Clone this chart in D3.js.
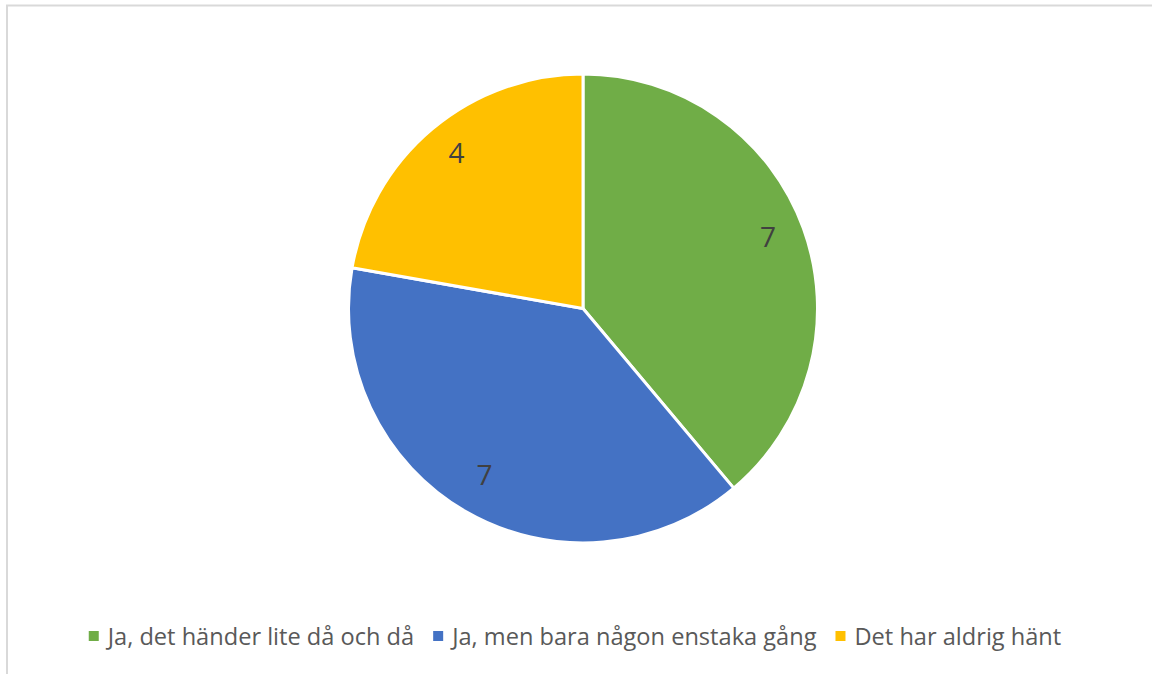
<!DOCTYPE html>
<html>
<head>
<meta charset="utf-8">
<script src="https://cdn.jsdelivr.net/npm/d3@7"></script>
<style>
  body { margin: 0; background: #fff; }
  svg { display: block; }
</style>
</head>
<body>
<script>
// data
const categories = ["Ja, det händer lite då och då", "Ja, men bara någon enstaka gång", "Det har aldrig hänt"];
const values = [7, 7, 4];
const colors = ["#70ad47", "#4472c4", "#ffc000"];

const W = 1152, H = 674;
const cx = 583, cy = 308.5, r = 234.5;

const svg = d3.select("body").append("svg")
  .attr("width", W).attr("height", H);

// chart frame (only top and left edges visible)
svg.append("rect")
  .attr("x", 7).attr("y", 5.5)
  .attr("width", W + 20).attr("height", H + 20)
  .attr("fill", "#fff")
  .attr("stroke", "#d9d9d9").attr("stroke-width", 2);

const pie = d3.pie().sort(null).value(d => d);
const arcs = pie(values);
const arc = d3.arc().innerRadius(0).outerRadius(r);
const labelArc = d3.arc().innerRadius(r * 0.84).outerRadius(r * 0.84);

const g = svg.append("g").attr("transform", `translate(${cx},${cy})`);

g.selectAll("path.slice")
  .data(arcs)
  .enter().append("path")
  .attr("class", "slice")
  .attr("d", arc)
  .attr("fill", (d, i) => colors[i])
  .attr("stroke", "#fff")
  .attr("stroke-width", 3)
  .attr("stroke-linejoin", "round");

g.selectAll("text.lbl")
  .data(arcs)
  .enter().append("text")
  .attr("class", "lbl")
  .attr("transform", d => `translate(${labelArc.centroid(d)})`)
  .attr("text-anchor", "middle")
  .attr("dy", "0.2em")
  .style("font-family", "'Open Sans', sans-serif")
  .style("font-size", "28px")
  .style("fill", "#404040")
  .text(d => d.data);

// legend
const legend = svg.append("g");
const items = legend.selectAll("g.item")
  .data(categories)
  .enter().append("g")
  .attr("class", "item");

items.append("rect")
  .attr("width", 10).attr("height", 10)
  .attr("y", 631)
  .attr("fill", (d, i) => colors[i]);

items.append("text")
  .attr("x", 19)
  .attr("y", 645)
  .style("font-family", "'Open Sans', sans-serif")
  .style("font-size", "23.6px")
  .style("fill", "#595959")
  .text(d => d);

let xpos = 0;
const gap = 19;
items.each(function() {
  const t = d3.select(this).select("text").node().getComputedTextLength();
  d3.select(this).attr("transform", `translate(${xpos},0)`);
  xpos += 19 + t + gap;
});
const total = xpos - gap;
legend.attr("transform", `translate(${575 - total / 2},0)`);
</script>
</body>
</html>
